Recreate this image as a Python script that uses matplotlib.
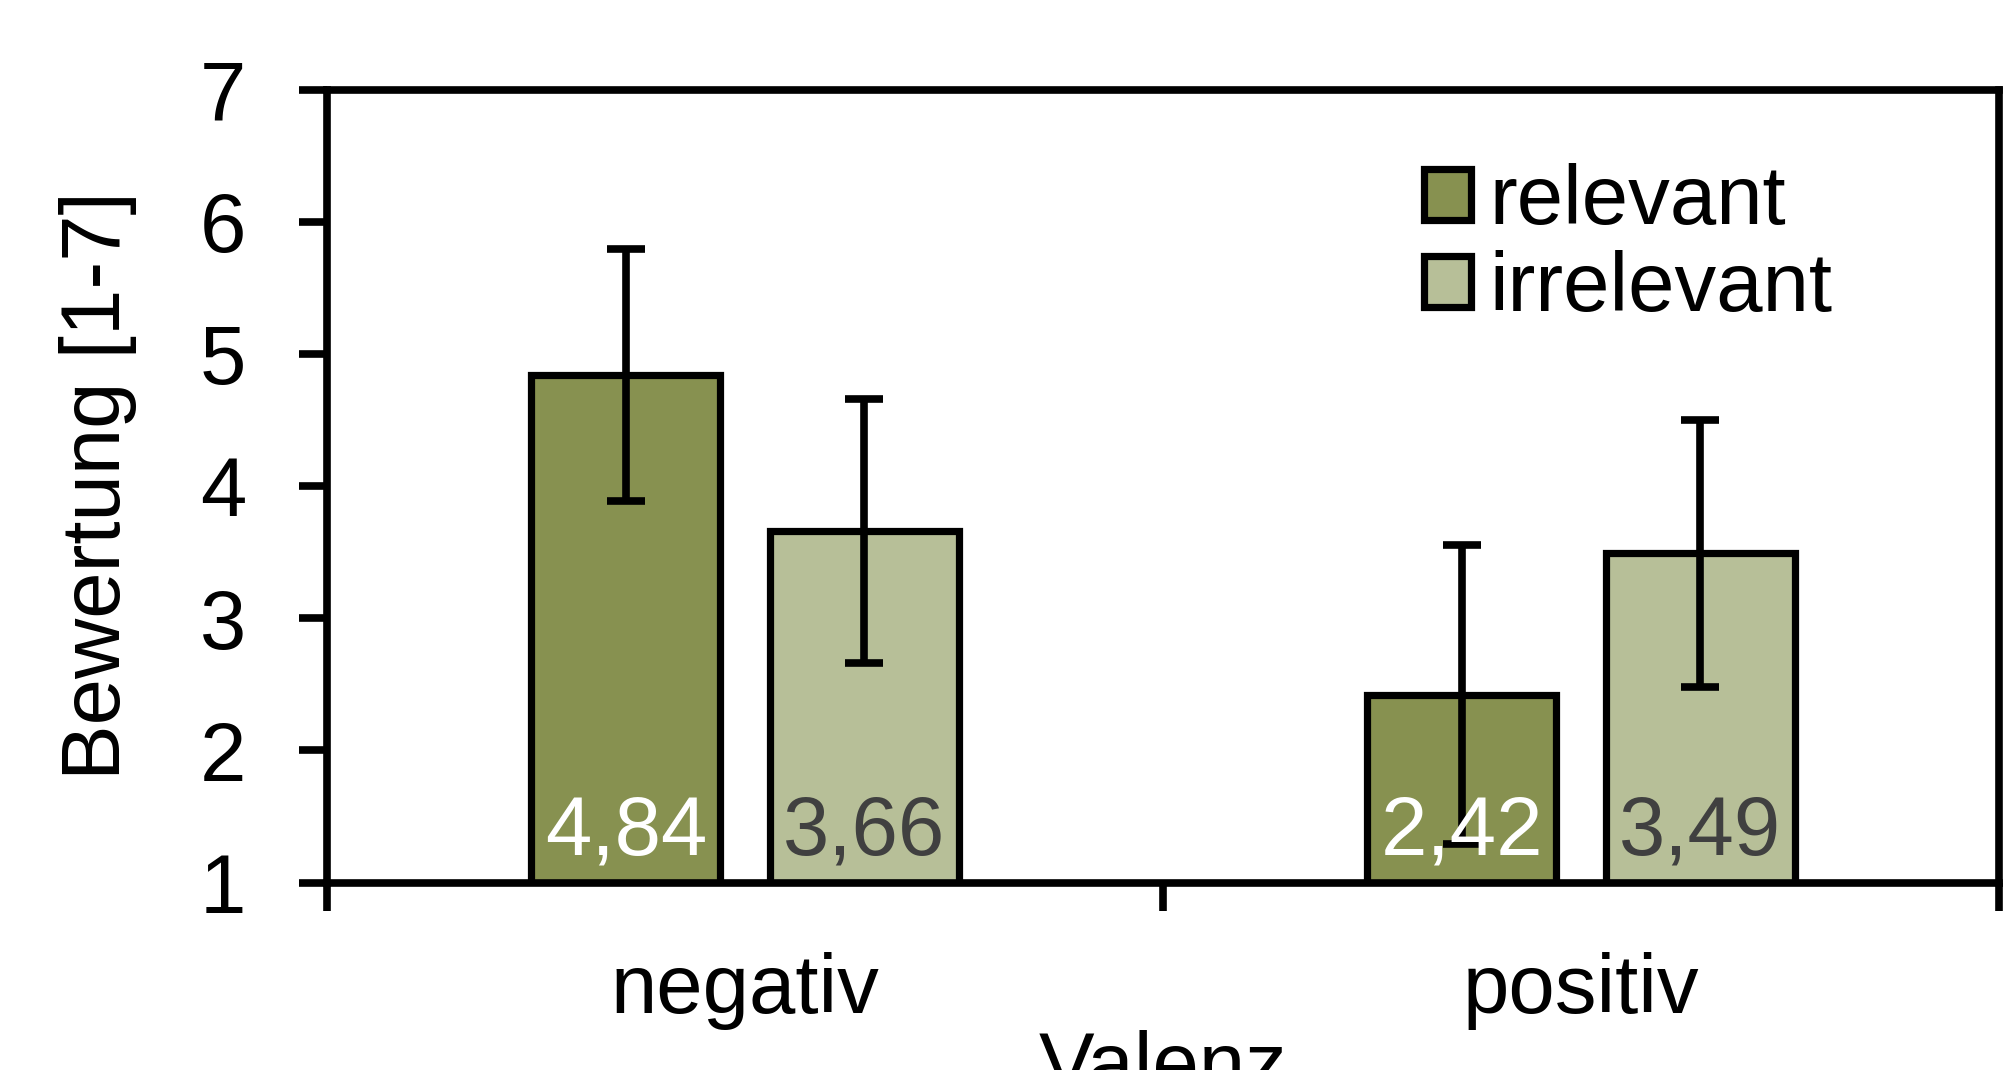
import numpy as np
import matplotlib
matplotlib.use("Agg")
import matplotlib.pyplot as plt

plt.rcParams['font.family'] = ['Liberation Sans', 'DejaVu Sans']

categories = ["negativ", "positiv"]
series_names = ["relevant", "irrelevant"]
relevant_means = [4.84, 2.42]
irrelevant_means = [3.66, 3.49]
relevant_err = [0.95, 1.13]
irrelevant_err = [1.00, 1.01]
value_labels_relevant = ["4,84", "2,42"]
value_labels_irrelevant = ["3,66", "3,49"]
yticks = [1, 2, 3, 4, 5, 6, 7]

col_rel = "#879150"
col_irr = "#b7bf98"
fs = 60
lw = 5.5
bar_lw = 5.2

fig = plt.figure(figsize=(20.06, 10.70), dpi=100)
ax = fig.add_axes([327 / 2006, 1 - 882.5 / 1070, (1999 - 327) / 2006, (882.5 - 89.5) / 1070])

x = np.arange(len(categories))
w = 0.226
off = 0.1425

b1 = ax.bar(x - off, relevant_means, w, bottom=0, color=col_rel, edgecolor="black",
            linewidth=bar_lw, label=series_names[0], zorder=2)
b2 = ax.bar(x + off, irrelevant_means, w, bottom=0, color=col_irr, edgecolor="black",
            linewidth=bar_lw, label=series_names[1], zorder=2)

ekw = dict(fmt="none", ecolor="black", elinewidth=lw, capsize=14, capthick=lw, zorder=3)
ax.errorbar(x - off, relevant_means, yerr=relevant_err, **ekw)
ax.errorbar(x + off, irrelevant_means, yerr=irrelevant_err, **ekw)

for xi, lab in zip(x - off, value_labels_relevant):
    ax.text(xi, 1.21, lab, ha="center", va="baseline", color="white", fontsize=fs, zorder=4)
for xi, lab in zip(x + off, value_labels_irrelevant):
    ax.text(xi, 1.21, lab, ha="center", va="baseline", color="#404040", fontsize=fs, zorder=4)

ax.set_xlim(-0.5, 1.5)
ax.set_ylim(1, 7)
ax.set_yticks(yticks)
ax.set_yticklabels([str(t) for t in yticks])

# boundary ticks between groups, labels at group centres
ax.set_xticks([-0.5, 0.5, 1.5])
ax.set_xticklabels(["", "", ""])
ax.set_xticks(x, minor=True)
ax.set_xticklabels(categories, minor=True)
ax.tick_params(axis="x", which="minor", length=0, pad=50, labelsize=fs)
ax.tick_params(axis="x", which="major", length=20, width=lw, direction="out")
ax.tick_params(axis="y", length=20, width=lw, direction="out", pad=38, labelsize=fs)

for s in ax.spines.values():
    s.set_linewidth(lw)
    s.set_zorder(5)

ax.set_ylabel("Bewertung [1-7]", fontsize=fs, labelpad=45)
ax.set_xlabel("Valenz", fontsize=fs, labelpad=0)

ax.legend(handles=[b1, b2], labels=series_names, loc="upper left",
          bbox_to_anchor=(1424 / 2006, 1 - 163 / 1070), bbox_transform=fig.transFigure,
          frameon=False, fontsize=fs, handlelength=0.56, handleheight=0.56,
          handletextpad=0.23, labelspacing=0.11, borderpad=0, borderaxespad=0)

fig.savefig("out.png", dpi=100)
